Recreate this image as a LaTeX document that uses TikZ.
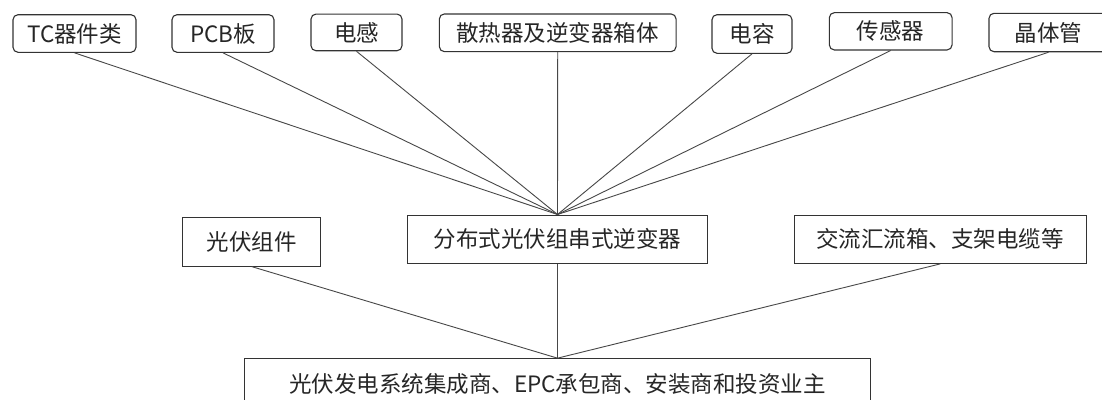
\documentclass[tikz,border=0pt]{standalone}
\usepackage{fontspec}
\newfontfamily\cjk{Noto Sans CJK SC}
\begin{document}
\begin{tikzpicture}[x=1pt,y=-1pt,
  topbox/.style={draw=black!80, line width=1.1pt, rounded corners=5pt, inner sep=0pt, fill=white,
    font=\cjk\fontsize{22.5}{24}\selectfont, text=black!85},
  midbox/.style={draw=black!80, line width=1.1pt, inner sep=0pt, fill=white,
    font=\cjk\fontsize{22.5}{24}\selectfont, text=black!85},
  conn/.style={draw=black!72, line width=0.9pt}]
\useasboundingbox (0,0) rectangle (1102,399);
\fill[white] (0,0) rectangle (1102,399);
\clip (0,0) rectangle (1102,399);
% middle and bottom
\node[midbox, minimum width=300.4pt, minimum height=48.3pt] (inv) at (557.5,239.2) {分布式光伏组串式逆变器};
\node[midbox, minimum width=138pt, minimum height=48.7pt] (pv) at (251.7,241.7) {光伏组件};
\node[midbox, minimum width=291.7pt, minimum height=48.3pt] (ac) at (940.2,239.2) {交流汇流箱、支架电缆等};
\node[midbox, minimum width=626.4pt, minimum height=50pt] (main) at (557.5,383.7) {光伏发电系统集成商、EPC承包商、安装商和投资业主};
% top row
\node[topbox, minimum width=123pt, minimum height=37.6pt] (tc) at (74.5,33.5) {TC器件类};
\node[topbox, minimum width=102pt, minimum height=37.6pt] (pcb) at (223,33.5) {PCB板};
\node[topbox, minimum width=91pt, minimum height=36.7pt] (dg) at (356.5,32.4) {电感};
\node[topbox, minimum width=236.7pt, minimum height=37.7pt] (srq) at (557.7,32.8) {散热器及逆变器箱体};
\node[topbox, minimum width=80pt, minimum height=38.6pt] (dr) at (752,34) {电容};
\node[topbox, minimum width=122.7pt, minimum height=37.3pt] (cgq) at (890.7,31.3) {传感器};
\node[topbox, minimum width=119pt, minimum height=38.4pt] (jtg) at (1048.5,32.5) {晶体管};
% connectors
\foreach \n in {tc,pcb,dg,srq,dr,cgq,jtg}
  \draw[conn] (\n.south) -- (inv.north);
\draw[conn] (pv.south) -- (main.north);
\draw[conn] (inv.south) -- (main.north);
\draw[conn] (ac.south) -- (main.north);
\end{tikzpicture}
\end{document}
